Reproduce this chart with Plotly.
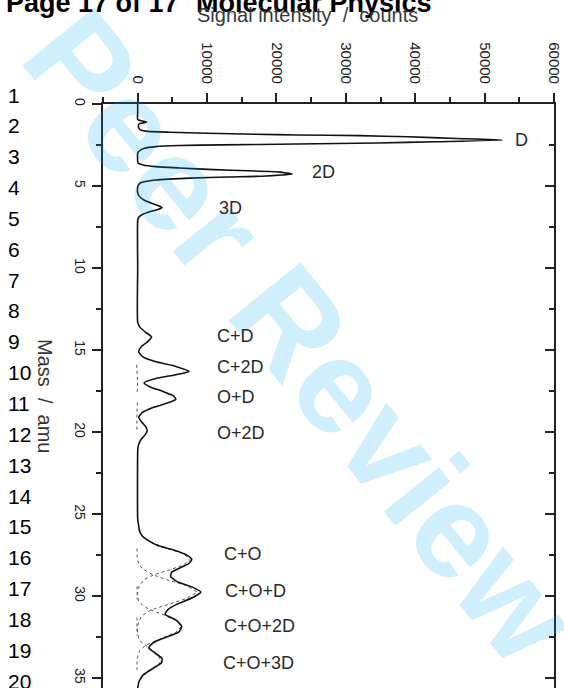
import plotly.graph_objects as go

# ---------------- data ----------------
mass = [0.0, 0.5, 0.95, 1.1, 1.22, 1.35, 1.5, 1.6, 1.67, 1.72, 1.78, 1.84, 1.89, 1.93,
        2.0, 2.1, 2.2, 2.3, 2.38, 2.44, 2.49, 2.53, 2.6, 2.7, 2.85, 3.0,
        3.5, 3.62, 3.72, 3.82, 3.9, 4.0, 4.07, 4.13, 4.27, 4.39, 4.45, 4.52, 4.58, 4.63,
        4.72, 4.8, 4.95, 5.06,
        5.4, 5.6, 5.85, 6.05, 6.2, 6.32, 6.45, 6.6, 6.75, 6.9, 7.1,
        10.0, 13.3, 13.6, 13.9, 14.2, 14.5, 14.8, 15.1, 15.4, 15.7, 16.0, 16.3, 16.5,
        16.75, 17.0, 17.25, 17.5, 17.8, 18.0, 18.2, 18.5, 18.8, 19.1, 19.4, 19.7, 19.95,
        20.2, 20.5, 20.9, 21.2,
        25.3, 25.6, 26.0, 26.3, 26.6, 26.9, 27.2, 27.5, 27.75, 28.0, 28.3, 28.55, 28.8,
        29.1, 29.45, 29.75, 30.05, 30.5, 30.8, 31.1, 31.45, 31.85, 32.2, 32.55, 32.85,
        33.15, 33.5, 33.8, 34.05, 34.4, 34.8, 35.2, 35.6]
intensity = [0, 0, 0, 1300, 200, 100, 200, 500, 1500, 4500, 10000, 17000, 23000, 32000,
             39000, 46000, 52600, 43000, 34500, 23000, 12000, 6000, 2600, 1000, 250, 0,
             0, 100, 800, 2600, 6000, 11000, 16000, 20000, 22300, 18500, 13000, 7500, 4500, 2600,
             1100, 430, 80, 0,
             0, 200, 900, 2000, 3000, 3500, 2800, 1500, 600, 150, 0,
             0, 0, 300, 1100, 2000, 1400, 500, 150, 700, 2500, 5500, 7400, 5500,
             2500, 900, 1800, 3500, 5200, 5500, 4500, 2200, 700, 150, 600, 1200, 1350,
             1000, 400, 50, 0,
             0, 100, 250, 600, 1500, 2800, 5300, 7100, 7800, 7400, 6000, 4900, 4750,
             5600, 7900, 9100, 8100, 5600, 4400, 3950, 5500, 6350, 5900, 3800, 2200,
             1600, 2600, 3500, 3450, 2200, 800, 200, 0]

# fitted components (dotted)
fit_a_mass = [15.9, 16.4, 16.9, 17.2, 17.6]
fit_a_int = [-150, -120, -80, 0, -100]
fit_b_mass = [18.2, 18.7, 19.2, 19.6, 19.9]
fit_b_int = [-50, -120, -120, -120, -100]
co_mass = [26.0, 26.5, 27.0, 27.4, 27.75, 28.1, 28.4, 28.7, 29.0, 29.4, 29.8, 30.2]
co_int = [150, 900, 3600, 6500, 7600, 6600, 4600, 2300, 900, 200, 0, -100]
cod_mass = [27.1, 27.6, 28.0, 28.35, 28.7, 29.0, 29.35, 29.75, 30.15, 30.5, 30.85, 31.2,
            31.6, 32.0, 32.4]
cod_int = [-100, -80, 100, 700, 2200, 4200, 7000, 8600, 7000, 4300, 1900, 600, 100, -80, -100]
co2d_mass = [29.4, 29.9, 30.3, 30.6, 30.85, 31.1, 31.5, 31.85, 32.2, 32.6, 33.0, 33.3,
             33.7, 34.1, 34.5]
co2d_int = [-100, -80, 150, 800, 1900, 3500, 5700, 6300, 5500, 3200, 1150, 300, 0, -100, -100]
co3d_mass = [31.3, 32.0, 32.5, 32.8, 33.0, 33.3, 33.6, 34.0, 34.4, 34.8, 35.2]
co3d_int = [-100, -100, 100, 500, 1150, 2100, 3000, 3300, 2300, 900, 200]

peak_labels = ["D", "2D", "3D", "C+D", "C+2D", "O+D", "O+2D",
               "C+O", "C+O+D", "C+O+2D", "C+O+3D"]
x_tick_vals = [0, 10000, 20000, 30000, 40000, 50000, 60000]
y_tick_vals = [0, 5, 10, 15, 20, 25, 30, 35]
line_numbers = [str(i) for i in range(1, 21)]

# ---------------- layout helpers ----------------
W, H = 564, 688
L, R, T, B = 103, 10, 104, 0
PW, PH = W - L - R, H - T - B


def px(x):
    return (x - L) / PW


def py(y):
    return 1 - (y - T) / PH


fig = go.Figure()
dot = dict(color="#555", width=1.0, dash="dot")
for xs, ys in [(fit_a_int, fit_a_mass), (fit_b_int, fit_b_mass), (co_int, co_mass),
               (cod_int, cod_mass), (co2d_int, co2d_mass), (co3d_int, co3d_mass)]:
    fig.add_trace(go.Scatter(x=xs, y=ys, mode="lines", line=dot, hoverinfo="skip"))
fig.add_trace(go.Scatter(x=intensity, y=mass, mode="lines",
                         line=dict(color="#111", width=1.6, shape="spline", smoothing=0.5)))
# invisible trace to carry the right-hand axis
fig.add_trace(go.Scatter(x=[0], y=[0], yaxis="y2", mode="markers",
                         marker=dict(opacity=0), hoverinfo="skip"))

axcol = "#222"
fig.update_layout(
    width=W, height=H, margin=dict(l=L, r=R, t=T, b=B, autoexpand=False),
    paper_bgcolor="white", plot_bgcolor="white", showlegend=False,
    font=dict(family="Liberation Sans, Arial, sans-serif", color="#222"),
    xaxis=dict(range=[-5000, 60000], side="top", showline=True, linecolor=axcol, linewidth=1.6,
               ticks="outside", ticklen=9, tickwidth=1.5, tickcolor=axcol,
               tickvals=x_tick_vals, tickformat="d", tickangle=90,
               tickfont=dict(size=15, color="#222"), ticklabelstandoff=4,
               ticklabeloverflow="allow",
               minor=dict(dtick=5000, tick0=0, ticks="outside", ticklen=5, tickwidth=1.5,
                          tickcolor=axcol),
               showgrid=False, zeroline=False, mirror=False),
    yaxis=dict(range=[35.6, 0], showline=True, linecolor=axcol, linewidth=1.6,
               ticks="outside", ticklen=9, tickwidth=1.5, tickcolor=axcol,
               tickvals=y_tick_vals, tickangle=90, tickfont=dict(size=14, color="#222"),
               ticklabelstandoff=0, ticklabeloverflow="allow",
               minor=dict(dtick=2.5, tick0=0, ticks="outside", ticklen=5, tickwidth=1.5,
                          tickcolor=axcol),
               showgrid=False, zeroline=False),
    yaxis2=dict(range=[35.6, 0], overlaying="y", side="right", showline=True,
                linecolor=axcol, linewidth=1.6, ticks="inside", ticklen=9, tickwidth=1.5,
                tickcolor=axcol, tickvals=y_tick_vals, showticklabels=False,
                minor=dict(dtick=2.5, tick0=0, ticks="inside", ticklen=5, tickwidth=1.5,
                           tickcolor=axcol),
                showgrid=False, zeroline=False),
)

ann = []
# watermark
ann.append(dict(text="<b>Peer Review</b>", x=px(302), y=py(336), xref="paper", yref="paper",
                showarrow=False, textangle=51,
                font=dict(size=134, color="rgba(0,170,240,0.19)",
                          family="Liberation Sans, Arial, sans-serif")))
# header
ann.append(dict(text="<b>Page 17 of 17</b>", x=px(4), y=py(20), xref="paper", yref="paper",
                xanchor="left", yanchor="bottom", showarrow=False,
                font=dict(size=27, color="#000")))
ann.append(dict(text="<b>Molecular Physics</b>", x=px(194), y=py(20), xref="paper",
                yref="paper", xanchor="left", yanchor="bottom", showarrow=False,
                font=dict(size=27, color="#000")))
# axis titles
ann.append(dict(text="Signal intensity  /  counts", x=px(307), y=py(15), xref="paper",
                yref="paper", xanchor="center", yanchor="middle", showarrow=False,
                font=dict(size=20, color="#3a3a3a")))
ann.append(dict(text="Mass  /  amu", x=px(45), y=py(396), xref="paper", yref="paper",
                xanchor="center", yanchor="middle", showarrow=False, textangle=90,
                font=dict(size=20, color="#333")))
# line numbers
for i, t in enumerate(line_numbers):
    ann.append(dict(text=t, x=px(6), y=py(95 + i * 30.85), xref="paper", yref="paper",
                    xanchor="left", yanchor="middle", showarrow=False,
                    font=dict(size=21, color="#000")))
# peak labels (pixel anchor positions)
label_pos = [(513, 140), (310, 172), (217, 208), (215, 336), (215, 367), (215, 397),
             (215, 433), (222, 554), (223, 591), (222, 626), (221, 663)]
for t, (lx, ly) in zip(peak_labels, label_pos):
    ann.append(dict(text=t, x=px(lx), y=py(ly), xref="paper", yref="paper",
                    xanchor="left", yanchor="middle", showarrow=False,
                    font=dict(size=18, color="#2a2a2a")))
fig.update_layout(annotations=ann)

fig.write_html("out.html", config={"displayModeBar": False},
               post_script="document.body.style.margin='0px';")
